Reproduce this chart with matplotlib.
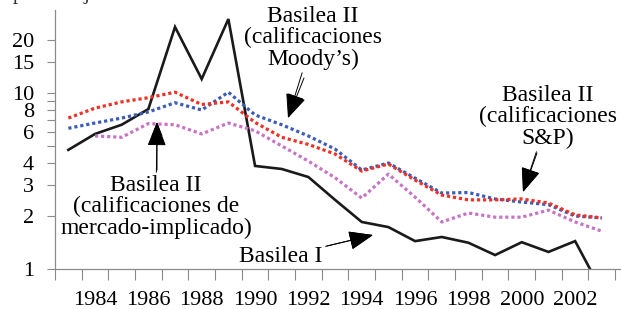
import matplotlib.pyplot as plt
import numpy as np

# datos (escala logaritmica)
anios = list(range(1983, 2004))
basilea1 = [4.75, 5.85, 6.6, 8.1, 23.7, 12.0, 26.3, 3.85, 3.7, 3.33, 2.47, 1.85, 1.73,
            1.44, 1.52, 1.41, 1.2, 1.42, 1.25, 1.44, 0.75]
moodys = [6.3, 6.75, 7.2, 7.8, 8.8, 8.0, 10.1, 7.5, 6.6, 5.7, 4.8, 3.65, 4.0,
          3.28, 2.7, 2.72, 2.5, 2.4, 2.32, 2.0, 1.95]
sp = [7.2, 8.2, 8.9, 9.4, 10.1, 8.6, 8.9, 6.8, 5.6, 5.1, 4.5, 3.6, 3.95,
      3.2, 2.63, 2.47, 2.47, 2.5, 2.37, 2.03, 1.95]
anios_mercado = list(range(1984, 2004))
mercado = [5.7, 5.6, 6.7, 6.6, 5.85, 6.75, 6.1, 5.0, 4.1, 3.3, 2.53, 3.46,
           2.56, 1.85, 2.08, 1.97, 1.97, 2.16, 1.85, 1.64]

ticks_y = [1, 2, 3, 4, 5, 6, 7, 8, 9, 10, 15, 20]
etiquetas_y = ['1', '2', '3', '4', '', '6', '', '8', '', '10', '15', '20']
anios_etiqueta = list(range(1984, 2003, 2))

plt.rcParams['font.family'] = ['Liberation Serif', 'DejaVu Serif']

fig = plt.figure(figsize=(6.21, 3.09), dpi=100)
ax = fig.add_axes([55/621, 1 - 269/309, 566/621, 259/309])

gris = '#8a8a8a'
ax.plot(anios, basilea1, color='#1a1a1a', lw=1.9, solid_joinstyle='miter')
ax.plot(anios, moodys, color='#3b5cb8', lw=2.3, linestyle=(0, (1, 0.9)))
ax.plot(anios, sp, color='#ee3124', lw=2.3, linestyle=(0, (1, 0.9)))
ax.plot(anios_mercado, mercado, color='#c774c4', lw=2.3, linestyle=(0, (1, 0.9)))

ax.set_yscale('log')
ax.set_ylim(1, 29.6)
ax.set_xlim(1982.5, 2003.72)

ax.set_yticks(ticks_y)
ax.set_yticklabels(etiquetas_y)
ax.yaxis.set_minor_locator(plt.NullLocator())
ax.tick_params(axis='y', which='major', length=6, width=0.8, color=gris,
               labelsize=16, pad=9)

ax.set_xticks(np.arange(1982.5, 2004.5, 1))
ax.set_xticklabels([])
ax.set_xticks(anios_etiqueta, minor=True)
ax.set_xticklabels([str(a) for a in anios_etiqueta], minor=True)
ax.tick_params(axis='x', which='major', length=8, width=0.8, color=gris)
ax.tick_params(axis='x', which='minor', length=0, labelsize=16, pad=16)

for lado in ['top', 'right']:
    ax.spines[lado].set_visible(False)
for lado in ['left', 'bottom']:
    ax.spines[lado].set_color(gris)
    ax.spines[lado].set_linewidth(0.9)
ax.spines['bottom'].set_zorder(5)

flecha = dict(arrowstyle='-|>,head_length=0.9,head_width=0.35', color='black',
              lw=0.7, shrinkA=0, shrinkB=0)
kw = dict(xycoords='figure pixels', textcoords='figure pixels', fontsize=17,
          ha='center', va='center', linespacing=1.02, arrowprops=flecha)

def fp(x, y):
    return (x, 309 - y)

ax.annotate('Basilea II\n(calificaciones\nMoody\u2019s)', xy=fp(288, 118), xytext=fp(313, 38), **kw)
ax.annotate('', xy=fp(288, 118), xytext=fp(304, 78), **kw)
ax.annotate('Basilea II\n(calificaciones\nS&P)', xy=fp(523, 192), xytext=fp(548, 117), **kw)
ax.annotate('', xy=fp(523, 192), xytext=fp(537, 153), **kw)
ax.annotate('Basilea II\n(calificaciones de\nmercado-implicado)', xy=fp(157, 122), xytext=fp(156, 207), **kw)
ax.annotate('', xy=fp(157, 122), xytext=fp(157, 170),
            xycoords='figure pixels', textcoords='figure pixels',
            arrowprops=dict(flecha, color='black'))
ax.annotate('Basilea I', xy=fp(373, 235), xytext=fp(281, 257), **kw)
ax.annotate('', xy=fp(373, 235), xytext=fp(327, 246), **kw)

fig.text(0.02, 1 + 1/309, 'porcentaje', fontsize=15, va='baseline', color='#333333')

fig.savefig('out.png', dpi=100)
